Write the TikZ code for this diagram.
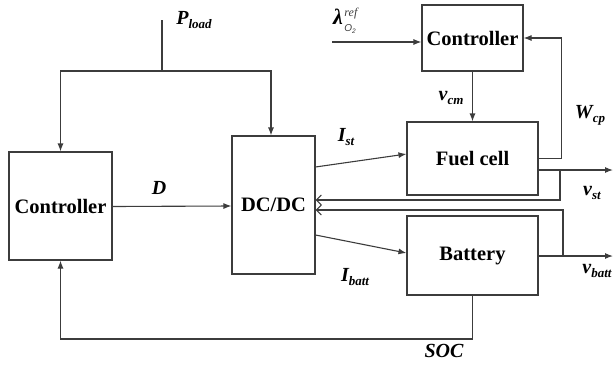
\documentclass[tikz,border=0pt]{standalone}
\usepackage{fontspec}
\setmainfont{Liberation Serif}
\setsansfont{Liberation Sans}
\usetikzlibrary{arrows.meta,calc}
\definecolor{ln}{RGB}{60,60,60}
\newcommand\varlbl[2]{{\fontsize{20}{22}\selectfont\bfseries\itshape #1\raisebox{-0.45ex}{\fontsize{13}{14}\selectfont #2}}}
\begin{document}
\begin{tikzpicture}[x=1pt,y=-1pt,
  blk/.style={draw=ln,line width=1.1pt,rectangle,inner sep=0pt,font=\fontsize{20.5}{22}\selectfont\bfseries},
  ln/.style={draw=ln,line width=1.1pt},
  arr/.style={ln,-{Latex[length=8pt,width=6pt]}},
  barb/.style={ln,-{Straight Barb[length=5pt,width=10pt]}},
  lbl/.style={inner sep=0pt}]
\useasboundingbox (0,0) rectangle (613,365);
\node[blk,minimum width=103pt,minimum height=108pt] (cl) at (60.5,206) {Controller};
\node[blk,minimum width=83pt,minimum height=138pt] (dc) at (273.5,205) {DC/DC};
\node[blk,minimum width=101pt,minimum height=66pt] (tc) at (472.5,38) {Controller};
\node[blk,minimum width=131pt,minimum height=73pt] (fc) at (472.5,158.5) {Fuel cell};
\node[blk,minimum width=131pt,minimum height=79pt] (bt) at (472.5,255.5) {Battery};
% P_load
\coordinate (pl) at (162,20);
\coordinate (pj) at (162,71);
\draw[ln] (pl) -- (pj);
\draw[arr] (pj) -| (cl.north);
\draw[arr] (pj) -| ([xshift=-2.5pt]dc.north);
\node[lbl] (plab) at (194,20) {\varlbl{P}{load}};
% D
\draw[arr] ([yshift=-0.5pt]cl.east) -- ([yshift=-1pt]dc.west);
\node[lbl] (dlab) at (159,188) {{\fontsize{20}{22}\selectfont\bfseries\itshape D}};
% I_st, I_batt
\draw[arr] ([yshift=38pt]dc.east) -- ([yshift=4.5pt]fc.west);
\node[lbl] (ist) at (346,137) {\varlbl{I}{st}};
\draw[arr] ([yshift=-30pt]dc.east) -- ([yshift=2.5pt]bt.west);
\node[lbl] (ib) at (355,277) {\varlbl{I}{batt}};
% lambda
\coordinate (lam) at (332,42);
\draw[arr] (lam) -- (lam -| tc.west);
\node[lbl,anchor=west] (laml) at (333,21) {{\fontsize{22}{22}\selectfont\bfseries\itshape λ}\hspace{1.5pt}\rlap{\raisebox{1.8ex}{\color{ln}\fontsize{12}{12}\selectfont\itshape ref}}\raisebox{-1.5ex}{\color{ln}\fontsize{10}{10}\selectfont\sffamily\itshape O\raisebox{-0.4ex}{\fontsize{6.5}{7}\selectfont 2}}};
% v_cm
\draw[arr] (tc.south) -- (fc.north);
\node[lbl] (vcm) at (451,98) {\varlbl{v}{cm}};
% W_cp
\draw[arr] (fc.east) -- ++(23,0) |- (tc.east);
\node[lbl] (wcp) at (590,115) {\varlbl{W}{cp}};
% fuel cell output
\coordinate (vsto) at (613,170);
\draw[arr] ([yshift=-11.5pt]fc.east) -- (vsto);
\coordinate (vstj) at (560,170);
\draw[barb] (vstj) |- ([yshift=5pt]dc.east);
\node[lbl] (vst) at (592,193) {\varlbl{v}{st}};
% battery output
\coordinate (vbo) at (613,256);
\draw[arr] ([yshift=-0.5pt]bt.east) -- (vbo);
\coordinate (vbj) at (563,256);
\draw[barb] (vbj) |- ([yshift=-5pt]dc.east);
\node[lbl] (vb) at (597,271) {\varlbl{v}{batt}};
% SOC
\coordinate (socj) at (472.5,339);
\draw[arr] (bt.south) -- (socj) -| (cl.south);
\node[lbl] (soc) at (444,351) {{\fontsize{20}{22}\selectfont\bfseries\itshape SOC}};
\end{tikzpicture}
\end{document}
